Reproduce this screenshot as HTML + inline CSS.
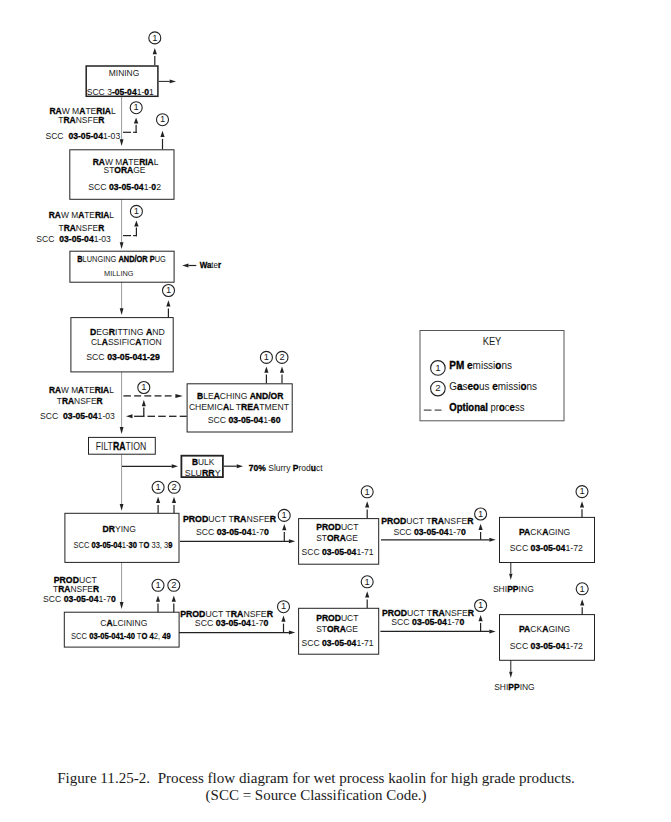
<!DOCTYPE html>
<html><head><meta charset="utf-8"><title>Process flow diagram</title>
<style>
html,body{margin:0;padding:0;background:#fff;}
body{width:671px;height:822px;overflow:hidden;}
svg{display:block;}
svg text{font-family:"Liberation Sans", sans-serif;fill:#1a1a1a;white-space:pre;}
svg .b{font-weight:bold;fill:#000;stroke:#000;stroke-width:0.3px;}
</style></head>
<body>
<svg width="671" height="822" viewBox="0 0 671 822">
<rect width="100%" height="100%" fill="#fff"/>
<line x1="121.6" y1="97.0" x2="121.6" y2="140.0" stroke="#9a9a9a" stroke-width="1.0"/>
<polygon points="121.6,146.0 119.7,139.2 123.5,139.2" fill="#222"/>
<line x1="121.6" y1="199.0" x2="121.6" y2="243.0" stroke="#9a9a9a" stroke-width="1.0"/>
<polygon points="121.6,249.0 119.7,242.2 123.5,242.2" fill="#222"/>
<line x1="121.6" y1="282.0" x2="121.6" y2="309.0" stroke="#9a9a9a" stroke-width="1.0"/>
<polygon points="121.6,315.0 119.7,308.2 123.5,308.2" fill="#222"/>
<line x1="121.6" y1="372.0" x2="121.6" y2="427.9" stroke="#9a9a9a" stroke-width="1.0"/>
<polygon points="121.6,433.9 119.7,427.1 123.5,427.1" fill="#222"/>
<line x1="121.6" y1="454.2" x2="121.6" y2="504.7" stroke="#9a9a9a" stroke-width="1.0"/>
<polygon points="121.6,510.7 119.7,503.9 123.5,503.9" fill="#222"/>
<line x1="121.6" y1="562.5" x2="121.6" y2="602.9" stroke="#9a9a9a" stroke-width="1.0"/>
<polygon points="121.6,608.9 119.7,602.1 123.5,602.1" fill="#222"/>
<rect x="86.2" y="66.0" width="71.7" height="30.3" fill="none" stroke="#222" stroke-width="1.5"/>
<text x="108.8" y="75.6" font-size="9.40" textLength="30.4" lengthAdjust="spacingAndGlyphs">MINING</text>
<text x="86.7" y="94.6" font-size="9.40" textLength="67.1" lengthAdjust="spacingAndGlyphs">SCC 3<tspan class="b">-05-04</tspan>1-<tspan class="b">0</tspan>1</text>
<line x1="154.8" y1="65.0" x2="154.8" y2="56.1" stroke="#222" stroke-width="1.2"/>
<polygon points="154.8,48.0 152.7,54.3 156.9,54.3" fill="#222"/>
<circle cx="154.8" cy="37.9" r="6.0" fill="none" stroke="#222" stroke-width="1.1"/>
<text x="154.8" y="40.6" font-size="9.4" text-anchor="middle">1</text>
<line x1="158.7" y1="81.4" x2="169.7" y2="81.4" stroke="#222" stroke-width="1.0"/>
<polygon points="176.0,81.4 169.7,79.6 169.7,83.2" fill="#222"/>
<text x="49.4" y="114.0" font-size="9.40" textLength="66.3" lengthAdjust="spacingAndGlyphs"><tspan class="b">RA</tspan>W M<tspan class="b">A</tspan>TE<tspan class="b">RIA</tspan>L</text>
<text x="58.3" y="122.6" font-size="9.40" textLength="46.2" lengthAdjust="spacingAndGlyphs">T<tspan class="b">RA</tspan>NSFE<tspan class="b">R</tspan></text>
<text x="45.4" y="139.0" font-size="9.40" textLength="74.8" lengthAdjust="spacingAndGlyphs">SCC  <tspan class="b">03-05-04</tspan>1-03</text>
<circle cx="136.2" cy="107.7" r="6.0" fill="none" stroke="#222" stroke-width="1.1"/>
<text x="136.2" y="110.4" font-size="9.4" text-anchor="middle">1</text>
<line x1="123.0" y1="132.3" x2="131.1" y2="132.3" stroke="#222" stroke-width="1.2"/>
<line x1="133.1" y1="132.3" x2="136.7" y2="132.3" stroke="#222" stroke-width="1.2"/>
<line x1="136.1" y1="132.9" x2="136.1" y2="124.7" stroke="#222" stroke-width="1.2"/>
<polygon points="136.1,117.5 133.9,123.5 138.3,123.5" fill="#222"/>
<line x1="162.5" y1="149.3" x2="162.5" y2="138.9" stroke="#222" stroke-width="1.2"/>
<polygon points="162.5,130.8 160.4,137.1 164.6,137.1" fill="#222"/>
<circle cx="162.5" cy="119.7" r="6.0" fill="none" stroke="#222" stroke-width="1.1"/>
<text x="162.5" y="122.4" font-size="9.4" text-anchor="middle">1</text>
<rect x="69.8" y="149.8" width="104.2" height="49.5" fill="none" stroke="#222" stroke-width="1.0"/>
<text x="92.7" y="164.5" font-size="9.40" textLength="65.7" lengthAdjust="spacingAndGlyphs"><tspan class="b">RA</tspan>W M<tspan class="b">A</tspan>TE<tspan class="b">RIA</tspan>L</text>
<text x="103.5" y="172.7" font-size="9.40" textLength="42.0" lengthAdjust="spacingAndGlyphs">ST<tspan class="b">ORA</tspan>GE</text>
<text x="88.3" y="189.7" font-size="9.40" textLength="72.7" lengthAdjust="spacingAndGlyphs">SCC <tspan class="b">03-05-04</tspan>1-<tspan class="b">0</tspan>2</text>
<text x="48.8" y="218.2" font-size="9.40" textLength="65.2" lengthAdjust="spacingAndGlyphs"><tspan class="b">RA</tspan>W M<tspan class="b">A</tspan>TE<tspan class="b">RIA</tspan>L</text>
<text x="58.6" y="230.7" font-size="9.40" textLength="45.6" lengthAdjust="spacingAndGlyphs">T<tspan class="b">RA</tspan>NSFE<tspan class="b">R</tspan></text>
<text x="36.3" y="242.2" font-size="9.40" textLength="74.6" lengthAdjust="spacingAndGlyphs">SCC  <tspan class="b">03-05-04</tspan>1-03</text>
<circle cx="136.4" cy="211.4" r="6.0" fill="none" stroke="#222" stroke-width="1.1"/>
<text x="136.4" y="214.1" font-size="9.4" text-anchor="middle">1</text>
<line x1="123.0" y1="235.6" x2="131.1" y2="235.6" stroke="#222" stroke-width="1.2"/>
<line x1="133.1" y1="235.6" x2="137.0" y2="235.6" stroke="#222" stroke-width="1.2"/>
<line x1="136.4" y1="236.2" x2="136.4" y2="227.6" stroke="#222" stroke-width="1.2"/>
<polygon points="136.4,220.4 134.2,226.4 138.6,226.4" fill="#222"/>
<rect x="69.9" y="251.2" width="104.2" height="31.0" fill="none" stroke="#222" stroke-width="1.0"/>
<text x="77.2" y="262.4" font-size="8.20" textLength="88.6" lengthAdjust="spacingAndGlyphs"><tspan class="b">B</tspan>LUNGING <tspan class="b">AND/OR P</tspan>UG</text>
<text x="104.0" y="276.3" font-size="7.60" textLength="29.5" lengthAdjust="spacingAndGlyphs">MILLING</text>
<line x1="196.3" y1="265.5" x2="188.5" y2="265.5" stroke="#222" stroke-width="1.2"/>
<polygon points="182.2,265.5 188.5,263.5 188.5,267.5" fill="#222"/>
<text x="199.7" y="268.0" font-size="9.00" textLength="21.4" lengthAdjust="spacingAndGlyphs"><tspan class="b">Wa</tspan>te<tspan class="b">r</tspan></text>
<circle cx="168.5" cy="290.5" r="6.0" fill="none" stroke="#222" stroke-width="1.1"/>
<text x="168.5" y="293.2" font-size="9.4" text-anchor="middle">1</text>
<line x1="168.4" y1="317.4" x2="168.4" y2="308.4" stroke="#222" stroke-width="1.2"/>
<polygon points="168.4,300.3 166.3,306.6 170.5,306.6" fill="#222"/>
<rect x="70.9" y="317.6" width="102.3" height="54.3" fill="none" stroke="#222" stroke-width="1.0"/>
<text x="90.0" y="334.8" font-size="9.40" textLength="74.7" lengthAdjust="spacingAndGlyphs"><tspan class="b">D</tspan>EG<tspan class="b">R</tspan>ITTING <tspan class="b">A</tspan>ND</text>
<text x="91.0" y="344.5" font-size="9.40" textLength="70.7" lengthAdjust="spacingAndGlyphs">CL<tspan class="b">A</tspan>SSIFIC<tspan class="b">A</tspan>TION</text>
<text x="86.2" y="359.8" font-size="9.40" textLength="73.6" lengthAdjust="spacingAndGlyphs">SCC <tspan class="b">03-05-041-29</tspan></text>
<text x="48.9" y="393.1" font-size="9.40" textLength="64.9" lengthAdjust="spacingAndGlyphs"><tspan class="b">RA</tspan>W M<tspan class="b">A</tspan>TE<tspan class="b">RIA</tspan>L</text>
<text x="56.8" y="404.2" font-size="9.40" textLength="45.8" lengthAdjust="spacingAndGlyphs">T<tspan class="b">RA</tspan>NSFE<tspan class="b">R</tspan></text>
<text x="40.0" y="418.7" font-size="9.40" textLength="74.9" lengthAdjust="spacingAndGlyphs">SCC  <tspan class="b">03-05-04</tspan>1-03</text>
<line x1="123.4" y1="395.9" x2="130.9" y2="395.9" stroke="#222" stroke-width="1.3"/>
<line x1="134.1" y1="395.9" x2="141.1" y2="395.9" stroke="#222" stroke-width="1.3"/>
<line x1="144.3" y1="395.9" x2="151.3" y2="395.9" stroke="#222" stroke-width="1.3"/>
<line x1="154.5" y1="395.9" x2="161.5" y2="395.9" stroke="#222" stroke-width="1.3"/>
<line x1="164.7" y1="395.9" x2="171.6" y2="395.9" stroke="#222" stroke-width="1.3"/>
<polygon points="182.9,395.9 175.4,393.9 175.4,397.9" fill="#222"/>
<line x1="179.7" y1="416.3" x2="186.7" y2="416.3" stroke="#222" stroke-width="1.3"/>
<line x1="169.0" y1="416.3" x2="176.5" y2="416.3" stroke="#222" stroke-width="1.3"/>
<line x1="158.2" y1="416.3" x2="165.7" y2="416.3" stroke="#222" stroke-width="1.3"/>
<line x1="147.5" y1="416.3" x2="155.0" y2="416.3" stroke="#222" stroke-width="1.3"/>
<line x1="134.1" y1="416.3" x2="144.3" y2="416.3" stroke="#222" stroke-width="1.3"/>
<polygon points="126.0,416.3 132.5,414.3 132.5,418.3" fill="#222"/>
<line x1="143.8" y1="416.9" x2="143.8" y2="407.4" stroke="#222" stroke-width="1.3"/>
<polygon points="143.8,399.8 141.8,406.3 145.8,406.3" fill="#222"/>
<circle cx="143.8" cy="387.5" r="6.0" fill="none" stroke="#222" stroke-width="1.1"/>
<text x="143.8" y="390.2" font-size="9.4" text-anchor="middle">1</text>
<rect x="187.1" y="383.8" width="105.1" height="48.2" fill="none" stroke="#222" stroke-width="1.0"/>
<text x="197.0" y="398.5" font-size="9.40" textLength="86.4" lengthAdjust="spacingAndGlyphs"><tspan class="b">B</tspan>LE<tspan class="b">A</tspan>CHING <tspan class="b">AND/OR</tspan></text>
<text x="188.9" y="409.8" font-size="9.40" textLength="100.1" lengthAdjust="spacingAndGlyphs">CHEMIC<tspan class="b">A</tspan>L T<tspan class="b">REA</tspan>TMENT</text>
<text x="207.7" y="423.2" font-size="9.40" textLength="72.8" lengthAdjust="spacingAndGlyphs">SCC <tspan class="b">03-05-04</tspan>1-<tspan class="b">60</tspan></text>
<circle cx="266.4" cy="357.4" r="6.0" fill="none" stroke="#222" stroke-width="1.1"/>
<text x="266.4" y="360.1" font-size="9.4" text-anchor="middle">1</text>
<circle cx="282.0" cy="357.4" r="6.0" fill="none" stroke="#222" stroke-width="1.1"/>
<text x="282.0" y="360.1" font-size="9.4" text-anchor="middle">2</text>
<line x1="266.4" y1="383.3" x2="266.4" y2="374.6" stroke="#222" stroke-width="1.2"/>
<polygon points="266.4,366.5 264.3,372.8 268.5,372.8" fill="#222"/>
<line x1="282.0" y1="383.3" x2="282.0" y2="374.6" stroke="#222" stroke-width="1.2"/>
<polygon points="282.0,366.5 279.9,372.8 284.1,372.8" fill="#222"/>
<rect x="88.5" y="437.4" width="66.8" height="16.8" fill="none" stroke="#222" stroke-width="1.0"/>
<text x="95.7" y="449.9" font-size="10.20" textLength="50.5" lengthAdjust="spacingAndGlyphs">FILT<tspan class="b">RA</tspan>TION</text>
<line x1="122.0" y1="466.3" x2="171.7" y2="466.3" stroke="#222" stroke-width="1.2"/>
<polygon points="178.0,466.3 171.7,464.3 171.7,468.3" fill="#222"/>
<rect x="181.4" y="455.7" width="41.5" height="21.4" fill="none" stroke="#222" stroke-width="1.8"/>
<text x="192.0" y="464.6" font-size="9.40" textLength="22.2" lengthAdjust="spacingAndGlyphs"><tspan class="b">B</tspan>ULK</text>
<text x="184.8" y="476.0" font-size="9.40" textLength="35.8" lengthAdjust="spacingAndGlyphs">SLU<tspan class="b">RR</tspan>Y</text>
<line x1="223.8" y1="466.2" x2="236.7" y2="466.2" stroke="#222" stroke-width="1.2"/>
<polygon points="243.0,466.2 236.7,464.2 236.7,468.2" fill="#222"/>
<text x="248.8" y="470.5" font-size="9.40" textLength="73.9" lengthAdjust="spacingAndGlyphs"><tspan class="b">70%</tspan> Slurry <tspan class="b">P</tspan>rod<tspan class="b">u</tspan>ct</text>
<rect x="64.9" y="513.3" width="114.1" height="49.1" fill="none" stroke="#222" stroke-width="1.0"/>
<text x="102.6" y="531.8" font-size="9.70" textLength="33.4" lengthAdjust="spacingAndGlyphs"><tspan class="b">DR</tspan>YING</text>
<text x="73.4" y="548.2" font-size="9.20" textLength="99.1" lengthAdjust="spacingAndGlyphs">SCC <tspan class="b">03-05-04</tspan>1-<tspan class="b">30</tspan> T<tspan class="b">O</tspan> 33, 3<tspan class="b">9</tspan></text>
<circle cx="158.1" cy="487.3" r="6.0" fill="none" stroke="#222" stroke-width="1.1"/>
<text x="158.1" y="490.0" font-size="9.4" text-anchor="middle">1</text>
<circle cx="174.2" cy="487.3" r="6.0" fill="none" stroke="#222" stroke-width="1.1"/>
<text x="174.2" y="490.0" font-size="9.4" text-anchor="middle">2</text>
<line x1="158.1" y1="513.2" x2="158.1" y2="504.9" stroke="#222" stroke-width="1.2"/>
<polygon points="158.1,496.8 156.0,503.1 160.2,503.1" fill="#222"/>
<line x1="174.0" y1="513.2" x2="174.0" y2="504.9" stroke="#222" stroke-width="1.2"/>
<polygon points="174.0,496.8 171.9,503.1 176.1,503.1" fill="#222"/>
<line x1="180.0" y1="541.3" x2="288.9" y2="541.3" stroke="#222" stroke-width="1.2"/>
<polygon points="295.2,541.3 288.9,539.3 288.9,543.3" fill="#222"/>
<text x="182.9" y="522.4" font-size="9.20" textLength="93.3" lengthAdjust="spacingAndGlyphs"><tspan class="b">PROD</tspan>UCT T<tspan class="b">RA</tspan>NSFE<tspan class="b">R</tspan></text>
<text x="195.9" y="534.7" font-size="9.20" textLength="73.0" lengthAdjust="spacingAndGlyphs">SCC <tspan class="b">03-05-04</tspan>1-7<tspan class="b">0</tspan></text>
<circle cx="284.2" cy="515.4" r="6.0" fill="none" stroke="#222" stroke-width="1.1"/>
<text x="284.2" y="518.1" font-size="9.4" text-anchor="middle">1</text>
<line x1="284.3" y1="541.1" x2="284.3" y2="532.0" stroke="#222" stroke-width="1.2"/>
<polygon points="284.3,523.9 282.2,530.2 286.4,530.2" fill="#222"/>
<rect x="298.6" y="518.6" width="80.1" height="45.6" fill="none" stroke="#222" stroke-width="1.0"/>
<text x="316.2" y="530.0" font-size="9.20" textLength="42.3" lengthAdjust="spacingAndGlyphs"><tspan class="b">PROD</tspan>UCT</text>
<text x="316.2" y="540.7" font-size="9.20" textLength="41.8" lengthAdjust="spacingAndGlyphs">ST<tspan class="b">ORA</tspan>GE</text>
<text x="301.5" y="554.6" font-size="9.20" textLength="72.1" lengthAdjust="spacingAndGlyphs">SCC <tspan class="b">03-05-04</tspan>1-71</text>
<circle cx="367.2" cy="491.8" r="6.0" fill="none" stroke="#222" stroke-width="1.1"/>
<text x="367.2" y="494.5" font-size="9.4" text-anchor="middle">1</text>
<line x1="367.2" y1="518.2" x2="367.2" y2="509.4" stroke="#222" stroke-width="1.2"/>
<polygon points="367.2,501.3 365.1,507.6 369.3,507.6" fill="#222"/>
<line x1="381.0" y1="539.8" x2="489.3" y2="539.8" stroke="#222" stroke-width="1.2"/>
<polygon points="495.6,539.8 489.3,537.8 489.3,541.8" fill="#222"/>
<text x="381.3" y="524.4" font-size="9.20" textLength="92.2" lengthAdjust="spacingAndGlyphs"><tspan class="b">PROD</tspan>UCT T<tspan class="b">RA</tspan>NSFE<tspan class="b">R</tspan></text>
<text x="393.4" y="534.9" font-size="9.20" textLength="72.4" lengthAdjust="spacingAndGlyphs">SCC <tspan class="b">03-05-04</tspan>1-7<tspan class="b">0</tspan></text>
<circle cx="480.6" cy="514.0" r="6.0" fill="none" stroke="#222" stroke-width="1.1"/>
<text x="480.6" y="516.7" font-size="9.4" text-anchor="middle">1</text>
<line x1="480.6" y1="539.8" x2="480.6" y2="531.9" stroke="#222" stroke-width="1.2"/>
<polygon points="480.6,523.8 478.5,530.1 482.7,530.1" fill="#222"/>
<rect x="499.5" y="517.4" width="95.0" height="45.1" fill="none" stroke="#222" stroke-width="1.0"/>
<text x="519.0" y="534.5" font-size="9.20" textLength="51.3" lengthAdjust="spacingAndGlyphs"><tspan class="b">PA</tspan>CK<tspan class="b">A</tspan>GING</text>
<text x="509.8" y="551.2" font-size="9.20" textLength="73.1" lengthAdjust="spacingAndGlyphs">SCC <tspan class="b">03-05-04</tspan>1-72</text>
<circle cx="582.0" cy="491.6" r="6.0" fill="none" stroke="#222" stroke-width="1.1"/>
<text x="582.0" y="494.3" font-size="9.4" text-anchor="middle">1</text>
<line x1="582.0" y1="517.2" x2="582.0" y2="509.3" stroke="#222" stroke-width="1.2"/>
<polygon points="582.0,501.2 579.9,507.5 584.1,507.5" fill="#222"/>
<line x1="510.8" y1="562.5" x2="510.8" y2="573.7" stroke="#222" stroke-width="1.0"/>
<polygon points="510.8,580.0 509.1,573.7 512.5,573.7" fill="#222"/>
<text x="492.9" y="591.7" font-size="9.40" textLength="40.9" lengthAdjust="spacingAndGlyphs">SHI<tspan class="b">PP</tspan>ING</text>
<text x="53.8" y="582.9" font-size="9.40" textLength="43.0" lengthAdjust="spacingAndGlyphs"><tspan class="b">PROD</tspan>UCT</text>
<text x="53.1" y="592.4" font-size="9.40" textLength="46.0" lengthAdjust="spacingAndGlyphs">T<tspan class="b">RA</tspan>NSFE<tspan class="b">R</tspan></text>
<text x="43.1" y="601.5" font-size="9.40" textLength="72.7" lengthAdjust="spacingAndGlyphs">SCC <tspan class="b">03-05-04</tspan>1-7<tspan class="b">0</tspan></text>
<rect x="64.3" y="612.2" width="114.8" height="34.9" fill="none" stroke="#222" stroke-width="1.0"/>
<text x="100.3" y="625.8" font-size="9.00" textLength="47.0" lengthAdjust="spacingAndGlyphs">C<tspan class="b">A</tspan>LCINING</text>
<text x="71.0" y="638.9" font-size="9.20" textLength="99.7" lengthAdjust="spacingAndGlyphs">SCC <tspan class="b">03-05-041-40</tspan> T<tspan class="b">O 4</tspan>2, <tspan class="b">49</tspan></text>
<circle cx="158.0" cy="585.3" r="6.0" fill="none" stroke="#222" stroke-width="1.1"/>
<text x="158.0" y="588.0" font-size="9.4" text-anchor="middle">1</text>
<circle cx="173.8" cy="585.3" r="6.0" fill="none" stroke="#222" stroke-width="1.1"/>
<text x="173.8" y="588.0" font-size="9.4" text-anchor="middle">2</text>
<line x1="158.0" y1="612.2" x2="158.0" y2="603.6" stroke="#222" stroke-width="1.2"/>
<polygon points="158.0,595.5 155.9,601.8 160.1,601.8" fill="#222"/>
<line x1="173.8" y1="612.2" x2="173.8" y2="603.6" stroke="#222" stroke-width="1.2"/>
<polygon points="173.8,595.5 171.7,601.8 175.9,601.8" fill="#222"/>
<line x1="179.0" y1="632.6" x2="288.9" y2="632.6" stroke="#222" stroke-width="1.2"/>
<polygon points="295.2,632.6 288.9,630.6 288.9,634.6" fill="#222"/>
<text x="180.2" y="616.5" font-size="9.20" textLength="92.8" lengthAdjust="spacingAndGlyphs"><tspan class="b">PROD</tspan>UCT T<tspan class="b">RA</tspan>NSFE<tspan class="b">R</tspan></text>
<text x="194.8" y="626.3" font-size="9.20" textLength="73.7" lengthAdjust="spacingAndGlyphs">SCC <tspan class="b">03-05-04</tspan>1-7<tspan class="b">0</tspan></text>
<circle cx="283.5" cy="606.7" r="6.0" fill="none" stroke="#222" stroke-width="1.1"/>
<text x="283.5" y="609.4" font-size="9.4" text-anchor="middle">1</text>
<line x1="283.5" y1="632.6" x2="283.5" y2="623.6" stroke="#222" stroke-width="1.2"/>
<polygon points="283.5,615.5 281.4,621.8 285.6,621.8" fill="#222"/>
<rect x="298.6" y="608.3" width="80.1" height="45.9" fill="none" stroke="#222" stroke-width="1.0"/>
<text x="316.2" y="621.3" font-size="9.20" textLength="42.3" lengthAdjust="spacingAndGlyphs"><tspan class="b">PROD</tspan>UCT</text>
<text x="316.2" y="632.0" font-size="9.20" textLength="41.8" lengthAdjust="spacingAndGlyphs">ST<tspan class="b">ORA</tspan>GE</text>
<text x="301.5" y="646.2" font-size="9.20" textLength="72.1" lengthAdjust="spacingAndGlyphs">SCC <tspan class="b">03-05-04</tspan>1-71</text>
<circle cx="367.2" cy="581.8" r="6.0" fill="none" stroke="#222" stroke-width="1.1"/>
<text x="367.2" y="584.5" font-size="9.4" text-anchor="middle">1</text>
<line x1="367.2" y1="608.0" x2="367.2" y2="599.4" stroke="#222" stroke-width="1.2"/>
<polygon points="367.2,591.3 365.1,597.6 369.3,597.6" fill="#222"/>
<line x1="380.4" y1="631.4" x2="489.3" y2="631.4" stroke="#222" stroke-width="1.2"/>
<polygon points="495.6,631.4 489.3,629.4 489.3,633.4" fill="#222"/>
<text x="381.9" y="615.5" font-size="9.20" textLength="92.2" lengthAdjust="spacingAndGlyphs"><tspan class="b">PROD</tspan>UCT T<tspan class="b">RA</tspan>NSFE<tspan class="b">R</tspan></text>
<text x="391.3" y="624.7" font-size="9.20" textLength="73.0" lengthAdjust="spacingAndGlyphs">SCC <tspan class="b">03-05-04</tspan>1-7<tspan class="b">0</tspan></text>
<circle cx="480.6" cy="605.5" r="6.0" fill="none" stroke="#222" stroke-width="1.1"/>
<text x="480.6" y="608.2" font-size="9.4" text-anchor="middle">1</text>
<line x1="480.6" y1="631.5" x2="480.6" y2="623.0" stroke="#222" stroke-width="1.2"/>
<polygon points="480.6,614.9 478.5,621.2 482.7,621.2" fill="#222"/>
<rect x="499.5" y="614.6" width="95.0" height="45.7" fill="none" stroke="#222" stroke-width="1.0"/>
<text x="519.0" y="632.0" font-size="9.20" textLength="51.3" lengthAdjust="spacingAndGlyphs"><tspan class="b">PA</tspan>CK<tspan class="b">A</tspan>GING</text>
<text x="509.8" y="648.7" font-size="9.20" textLength="73.1" lengthAdjust="spacingAndGlyphs">SCC <tspan class="b">03-05-04</tspan>1-72</text>
<circle cx="582.2" cy="588.8" r="6.0" fill="none" stroke="#222" stroke-width="1.1"/>
<text x="582.2" y="591.5" font-size="9.4" text-anchor="middle">1</text>
<line x1="582.2" y1="614.4" x2="582.2" y2="607.3" stroke="#222" stroke-width="1.2"/>
<polygon points="582.2,599.2 580.1,605.5 584.3,605.5" fill="#222"/>
<line x1="510.8" y1="660.3" x2="510.8" y2="671.7" stroke="#222" stroke-width="1.0"/>
<polygon points="510.8,678.0 509.1,671.7 512.5,671.7" fill="#222"/>
<text x="494.2" y="690.0" font-size="9.40" textLength="40.5" lengthAdjust="spacingAndGlyphs">SHI<tspan class="b">PP</tspan>ING</text>
<rect x="420.0" y="330.5" width="144.0" height="90.3" fill="none" stroke="#555" stroke-width="1.0"/>
<text x="482.7" y="345.0" font-size="10.00" textLength="18.6" lengthAdjust="spacingAndGlyphs">KEY</text>
<circle cx="437.9" cy="367.9" r="7.3" fill="none" stroke="#222" stroke-width="1.1"/>
<text x="437.9" y="370.7" font-size="9.8" text-anchor="middle">1</text>
<text x="449.3" y="368.9" font-size="10.00" textLength="62.7" lengthAdjust="spacingAndGlyphs"><tspan class="b">PM e</tspan>missi<tspan class="b">o</tspan>ns</text>
<circle cx="437.9" cy="388.6" r="7.3" fill="none" stroke="#222" stroke-width="1.1"/>
<text x="437.9" y="391.4" font-size="9.8" text-anchor="middle">2</text>
<text x="449.3" y="389.6" font-size="10.00" textLength="87.7" lengthAdjust="spacingAndGlyphs">G<tspan class="b">a</tspan>s<tspan class="b">eo</tspan>us <tspan class="b">e</tspan>missi<tspan class="b">o</tspan>ns</text>
<line x1="423.8" y1="410.1" x2="431.5" y2="410.1" stroke="#222" stroke-width="1.0"/>
<line x1="434.6" y1="410.1" x2="441.5" y2="410.1" stroke="#222" stroke-width="1.0"/>
<text x="449.3" y="410.6" font-size="10.00" textLength="75.1" lengthAdjust="spacingAndGlyphs"><tspan class="b">Optional</tspan> pr<tspan class="b">o</tspan>c<tspan class="b">e</tspan>ss</text>
<text x="57.2" y="782.8" font-size="15.00" textLength="517.6" lengthAdjust="spacingAndGlyphs" style="font-family:'Liberation Serif', serif" fill="#111">Figure 11.25-2.  Process flow diagram for wet process kaolin for high grade products.</text>
<text x="205.6" y="799.7" font-size="15.00" textLength="221.0" lengthAdjust="spacingAndGlyphs" style="font-family:'Liberation Serif', serif" fill="#111">(SCC = Source Classification Code.)</text>
</svg>
</body></html>
